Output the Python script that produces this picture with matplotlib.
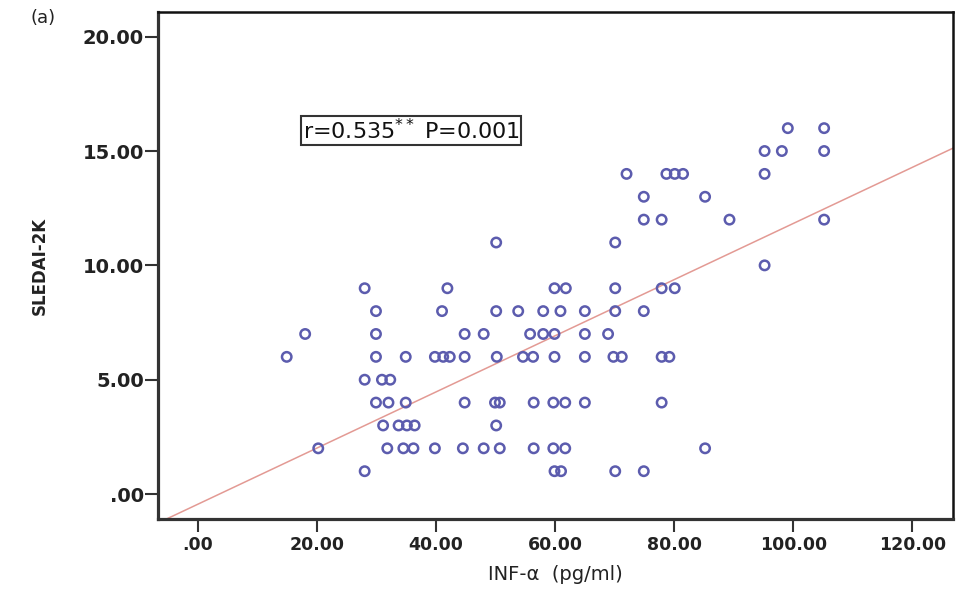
"""
SLEDAI-2K vs INF-alpha scatter with fit line
"""

import matplotlib
matplotlib.use('Agg')
import matplotlib.pyplot as plt
import numpy as np

# 数据 (每行一个 SLEDAI-2K 分数)
sledai_1 = [28.0, 59.9, 61.0, 70.1, 74.9]
sledai_2 = [20.2, 31.8, 34.5, 36.2, 39.8, 44.5, 48.0, 50.7, 56.4, 59.7, 61.7, 85.2]
sledai_3 = [31.1, 33.7, 35.1, 36.4, 50.1]
sledai_4 = [29.9, 32.0, 34.9, 44.8, 49.9, 50.7, 56.4, 59.7, 61.7, 65.0, 77.9]
sledai_5 = [28.0, 30.9, 32.3]
sledai_6 = [14.9, 29.9, 34.9, 39.8, 41.2, 42.3, 44.8, 50.2, 54.6, 56.3,
            59.9, 65.0, 69.8, 71.2, 77.9, 79.2]
sledai_7 = [18.0, 29.9, 44.8, 48.0, 55.8, 58.0, 59.9, 65.0, 68.9]
sledai_8 = [29.9, 41.0, 50.1, 53.8, 58.0, 60.9, 65.0, 70.1, 74.9]
sledai_9 = [28.0, 41.9, 59.9, 61.8, 70.1, 77.9, 80.1]
sledai_10 = [95.2]
sledai_11 = [50.1, 70.1]
sledai_12 = [74.9, 77.9, 89.3, 105.2]
sledai_13 = [74.9, 85.2]
sledai_14 = [72.0, 78.7, 80.1, 81.5, 95.2]
sledai_15 = [95.2, 98.1, 105.2]
sledai_16 = [99.1, 105.2]

rows = {1: sledai_1, 2: sledai_2, 3: sledai_3, 4: sledai_4, 5: sledai_5,
        6: sledai_6, 7: sledai_7, 8: sledai_8, 9: sledai_9, 10: sledai_10,
        11: sledai_11, 12: sledai_12, 13: sledai_13, 14: sledai_14,
        15: sledai_15, 16: sledai_16}

inf_alpha = np.array([x for score, xs in rows.items() for x in xs])
sledai = np.array([score for score, xs in rows.items() for x in xs])

# 拟合线
fit_slope = 0.1227
fit_intercept = -0.44

x_ticks = [0, 20, 40, 60, 80, 100, 120]
y_ticks = [0, 5, 10, 15, 20]

plt.rcParams['font.family'] = ['DejaVu Sans']

fig = plt.figure(figsize=(9.59, 5.93), dpi=100)
ax = fig.add_axes([0.1651, 0.1248, 0.9934 - 0.1651, 0.9798 - 0.1248])

ax.scatter(inf_alpha, sledai, s=46, facecolors='none',
           edgecolors='#5c5cae', linewidths=1.8, zorder=3)

xl = np.array([-6.67, 126.8])
ax.plot(xl, fit_intercept + fit_slope * xl, color='#e39a94', linewidth=1.1, zorder=2)

ax.set_xlim(-6.67, 126.8)
ax.set_ylim(-1.09, 21.08)

ax.set_xticks(x_ticks)
ax.set_xticklabels(['.00' if v == 0 else f"{v:.2f}" for v in x_ticks],
                   fontsize=12.5, fontweight='bold', color='#222222')
ax.set_yticks(y_ticks)
ax.set_yticklabels(['.00' if v == 0 else f"{v:.2f}" for v in y_ticks],
                   fontsize=14, fontweight='bold', color='#222222')

ax.tick_params(axis='y', direction='out', length=9.5, width=1.5, pad=1, color='#333333')
ax.tick_params(axis='x', direction='out', length=9, width=1.5, pad=3, color='#333333')

for side in ['left', 'bottom']:
    ax.spines[side].set_linewidth(2.3)
    ax.spines[side].set_color('#333333')
for side in ['top', 'right']:
    ax.spines[side].set_linewidth(1.8)
    ax.spines[side].set_color('#111111')

ax.set_xlabel('INF-α  (pg/ml)', fontsize=14, color='#222222', labelpad=8)
ax.set_ylabel('SLEDAI-2K', fontsize=12, fontweight='bold', color='#222222')
ax.yaxis.set_label_coords(-0.138, 0.5)

ax.text(0.182, 0.766, r'r=0.535$^{**}$ P=0.001', transform=ax.transAxes,
        fontsize=16, color='#111111', ha='left', va='center',
        bbox=dict(boxstyle='square,pad=0.08', facecolor='white',
                  edgecolor='#333333', linewidth=1.5))

fig.text(0.032, 0.97, '(a)', fontsize=13, color='#222222', ha='left', va='center')

fig.savefig('out.png', dpi=100)
